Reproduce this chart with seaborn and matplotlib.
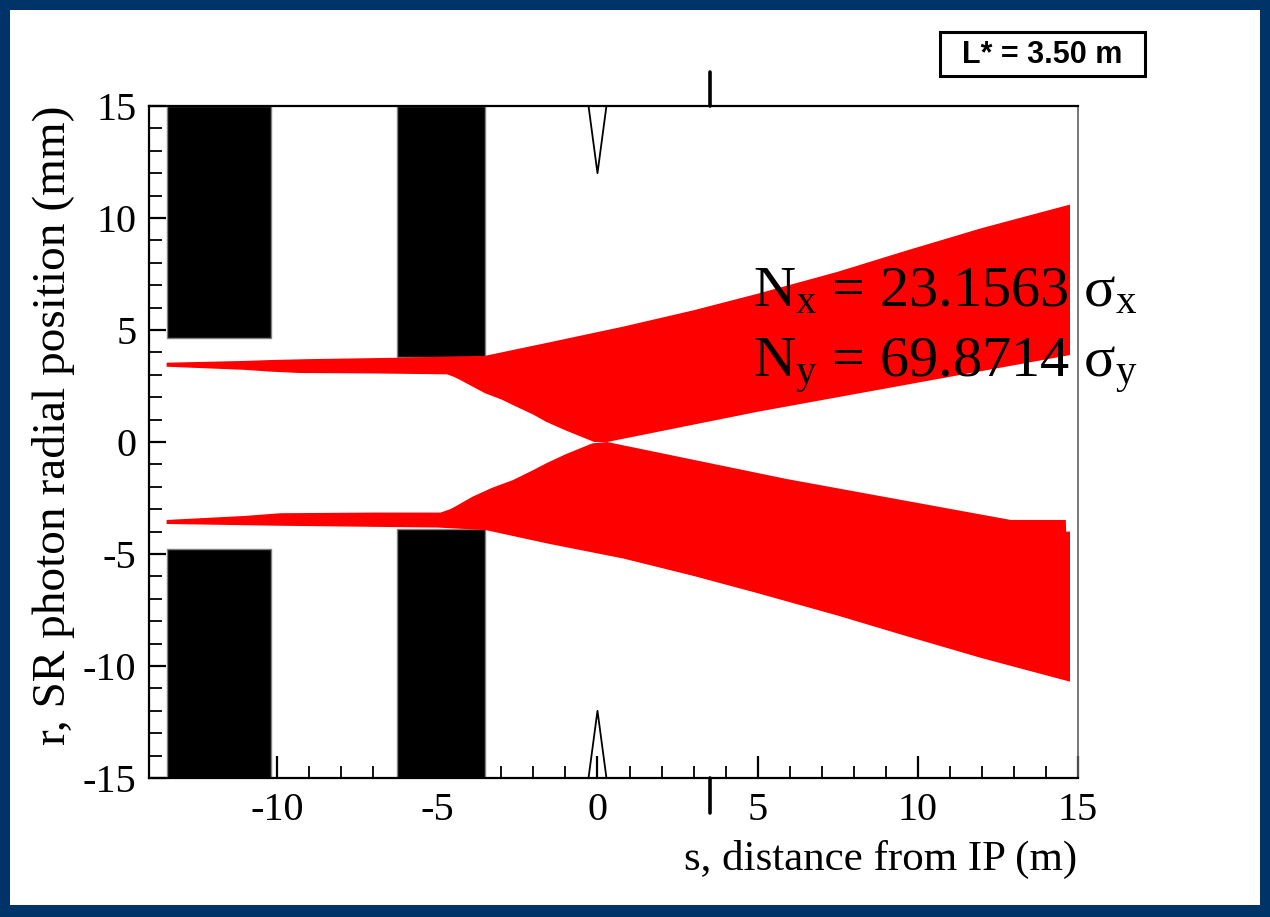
import matplotlib
matplotlib.use("Agg")
import matplotlib.pyplot as plt
import seaborn as sns
import numpy as np
from matplotlib.patches import Rectangle
from matplotlib.ticker import MultipleLocator

# ================= DATA =================
# magnet blocks: s start / end (m), inner aperture upper / lower (mm)
mag_s0 = [-13.45, -6.25]
mag_s1 = [-10.2, -3.5]
mag_r_up = [4.66, 3.81]
mag_r_dn = [-4.78, -3.88]

# mask tips near IP
mask_s = [-0.28, 0.0, 0.28]
mask_r = [15.0, 12.0, 15.0]

# upper SR fan envelope
up_s_outer = [-13.45, -11.0, -10.2, -9.0, -6.3, -5.0, -3.5, -1.5, 0.8, 3.0, 5.0, 7.5, 9.7, 12.0, 14.75]
up_r_outer = [3.54, 3.62, 3.66, 3.70, 3.76, 3.80, 3.85, 4.45, 5.15, 5.88, 6.62, 7.6, 8.57, 9.55, 10.6]
up_s_inner = [-13.45, -11.0, -10.2, -9.3, -7.0, -4.7, -4.5, -4.3, -4.0, -3.5, -3.0, -2.64, -2.0, -1.6, -1.0, -0.1, 0.3, 5.0, 10.0, 14.75]
up_r_inner = [3.36, 3.22, 3.14, 3.08, 3.06, 3.02, 2.92, 2.78, 2.55, 2.17, 1.9, 1.65, 1.22, 0.9, 0.52, 0.0, 0.0, 1.35, 2.65, 3.88]

# lower SR fan envelope
dn_s_outer = [-13.45, -9.9, -5.0, -3.5, -1.5, 0.8, 3.0, 5.0, 7.5, 9.7, 12.0, 14.75]
dn_r_outer = [-3.66, -3.74, -3.82, -3.93, -4.55, -5.2, -5.98, -6.75, -7.75, -8.69, -9.65, -10.7]
dn_s_inner = [-13.45, -11.0, -9.9, -7.0, -4.9, -4.6, -4.4, -3.9, -3.3, -2.64, -2.0, -1.6, -1.0, -0.16, 0.3, 5.9, 12.9, 14.62, 14.63, 14.75]
dn_r_inner = [-3.48, -3.30, -3.18, -3.15, -3.15, -3.0, -2.85, -2.44, -2.05, -1.70, -1.25, -0.95, -0.55, -0.06, 0.0, -1.65, -3.48, -3.48, -4.0, -4.0]

l_star = 3.5
nx_text = r"N$_\mathrm{x}$ = 23.1563 σ$_\mathrm{x}$"
ny_text = r"N$_\mathrm{y}$ = 69.8714 σ$_\mathrm{y}$"

# ================= STYLE =================
sns.set_style("ticks")
plt.rcParams["font.family"] = ["Liberation Serif", "DejaVu Serif"]
plt.rcParams["mathtext.fontset"] = "custom"
plt.rcParams["mathtext.rm"] = "Liberation Serif"
plt.rcParams["mathtext.it"] = "Liberation Serif:italic"
plt.rcParams["axes.unicode_minus"] = False
plt.rcParams["text.color"] = "black"
plt.rcParams["axes.labelcolor"] = "black"

BORDER = "#003468"
W, H = 1270, 917

fig = plt.figure(figsize=(W / 100, H / 100), dpi=100, facecolor=BORDER)

# white slide area behind everything
bg = fig.add_axes([0, 0, 1, 1], zorder=-10)
bg.set_axis_off()
bg.set_xlim(0, W)
bg.set_ylim(H, 0)
bg.add_patch(Rectangle((10, 10), 1250, 895, facecolor="white", edgecolor="none"))
# L* label box
bg.add_patch(Rectangle((940, 32), 205, 44, facecolor="white", edgecolor="black", lw=2.2))
bg.text(1042, 55, "L* = 3.50 m", fontsize=22, fontweight="bold", color="black",
        family="Liberation Sans", ha="center", va="center")

ax = fig.add_axes([149 / W, 139 / H, 929 / W, 672 / H])
ax.set_facecolor("white")

# ================= MAGNETS =================
for s0, s1, ru, rd in zip(mag_s0, mag_s1, mag_r_up, mag_r_dn):
    ax.fill_between([s0, s1], [ru, ru], [15, 15], color="black",
                    edgecolor="#808080", lw=1, zorder=2)
    ax.fill_between([s0, s1], [-15, -15], [rd, rd], color="black",
                    edgecolor="#808080", lw=1, zorder=2)

# ================= SR FANS =================
ax.fill(np.r_[up_s_outer, up_s_inner[::-1]], np.r_[up_r_outer, up_r_inner[::-1]],
        color="#ff0000", lw=0, zorder=3)
ax.fill(np.r_[dn_s_outer, dn_s_inner[::-1]], np.r_[dn_r_outer, dn_r_inner[::-1]],
        color="#ff0000", lw=0, zorder=3)

# ================= MASKS =================
sns.lineplot(x=mask_s, y=mask_r, sort=False, estimator=None, color="black",
             lw=1.3, ax=ax, zorder=4)
sns.lineplot(x=mask_s, y=[-v for v in mask_r], sort=False, estimator=None,
             color="black", lw=1.3, ax=ax, zorder=4)

# L* marker outside the frame
ax.plot([l_star, l_star], [15, 16.5], color="black", lw=2.6, clip_on=False, zorder=5)
ax.plot([l_star, l_star], [-15, -16.55], color="black", lw=2.6, clip_on=False, zorder=5)

# ================= AXES =================
ax.set_xlim(-14, 15)
ax.set_ylim(-15, 15)
ax.xaxis.set_major_locator(MultipleLocator(5))
ax.xaxis.set_minor_locator(MultipleLocator(1))
ax.yaxis.set_major_locator(MultipleLocator(5))
ax.yaxis.set_minor_locator(MultipleLocator(1))
ax.tick_params(which="both", direction="in", top=False, right=False,
               labelsize=29, colors="black")
ax.tick_params(axis="x", which="major", length=16, width=1.6, pad=10)
ax.tick_params(axis="x", which="minor", length=9, width=1.3)
ax.tick_params(axis="y", which="major", length=12, width=1.6, pad=9)
ax.tick_params(axis="y", which="minor", length=9.5, width=1.3)

for side in ["left", "bottom", "top"]:
    ax.spines[side].set_linewidth(1.6)
    ax.spines[side].set_color("black")
ax.spines["right"].set_linewidth(1.2)
ax.spines["right"].set_color("#606060")

ax.set_xlabel("s, distance from IP (m)", fontsize=31, color="black")
ax.xaxis.set_label_coords(0.788, -0.092)
ax.set_ylabel("r, SR photon radial position (mm)", fontsize=34, color="black")
ax.yaxis.set_label_coords(-0.08, 0.525)

ax.text(4.87, 6.05, nx_text, fontsize=42, color="black", ha="left", va="baseline", zorder=6)
ax.text(4.87, 2.9, ny_text, fontsize=42, color="black", ha="left", va="baseline", zorder=6)

fig.savefig("out.png", dpi=100, facecolor=fig.get_facecolor())
